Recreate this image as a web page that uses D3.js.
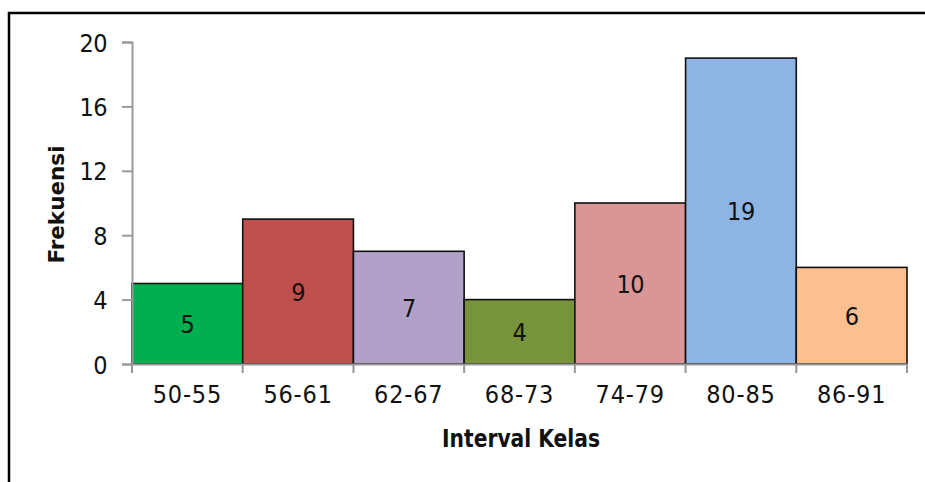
<!DOCTYPE html>
<html>
<head>
<meta charset="utf-8">
<script src="https://cdn.jsdelivr.net/npm/d3@7"></script>
<style>
  html, body { margin: 0; padding: 0; background: #fff; }
  svg { display: block; }
  text { font-family: "DejaVu Sans", sans-serif; font-stretch: condensed; fill: #111; }
</style>
</head>
<body>
<svg id="chart" width="925" height="482"></svg>
<script>
// Frequency distribution by class interval
const categories = ["50-55", "56-61", "62-67", "68-73", "74-79", "80-85", "86-91"];
const values = [5, 9, 7, 4, 10, 19, 6];
const colors = ["#00b050", "#c0504d", "#b1a0c7", "#77933c", "#da9694", "#8db4e2", "#fac090"];
const yTicks = [0, 4, 8, 12, 16, 20];

const svg = d3.select("#chart");

// outer frame
svg.append("rect")
  .attr("x", 9).attr("y", 13)
  .attr("width", 940).attr("height", 500)
  .attr("fill", "none").attr("stroke", "#000").attr("stroke-width", 2.5);

const plot = { left: 132, right: 907, top: 42, bottom: 364 };

const x = d3.scaleBand().domain(categories).range([plot.left, plot.right]).padding(0);
const y = d3.scaleLinear().domain([0, 20]).range([plot.bottom, plot.top]);

// bars
svg.append("g").selectAll("rect")
  .data(values)
  .join("rect")
  .attr("x", (d, i) => x(categories[i]))
  .attr("y", d => y(d))
  .attr("width", x.bandwidth())
  .attr("height", d => y(0) - y(d))
  .attr("fill", (d, i) => colors[i])
  .attr("stroke", "#111")
  .attr("stroke-width", 1.6);

// value labels centred in each bar
svg.append("g").selectAll("text")
  .data(values)
  .join("text")
  .attr("x", (d, i) => x(categories[i]) + x.bandwidth() / 2)
  .attr("y", d => (y(d) + y(0)) / 2)
  .attr("dy", "0.37em")
  .attr("text-anchor", "middle")
  .style("font-size", "25px")
  .style("letter-spacing", "-0.5px")
  .text(d => d);

// y axis
const yAxis = svg.append("g")
  .attr("transform", `translate(${plot.left},0)`)
  .call(d3.axisLeft(y).tickValues(yTicks).tickSize(10).tickPadding(15).tickSizeOuter(10));
yAxis.select(".domain").attr("stroke", "#999").attr("stroke-width", 2);
yAxis.selectAll(".tick line").attr("stroke", "#999").attr("stroke-width", 2);
yAxis.selectAll(".tick text")
  .attr("dy", "0.36em")
  .style("font-size", "25px").style("letter-spacing", "-0.5px").attr("fill", "#111");

// x axis: ticks at bar boundaries
const xAxis = svg.append("g")
  .attr("transform", `translate(0,${plot.bottom})`)
  .call(d3.axisBottom(x).tickSize(0).tickPadding(21));
xAxis.select(".domain").attr("stroke", "#999").attr("stroke-width", 2);
xAxis.selectAll(".tick text")
  .attr("dy", "0.72em")
  .style("font-size", "25px").style("letter-spacing", "0.8px").attr("fill", "#111");
xAxis.selectAll(".edge")
  .data(d3.range(categories.length + 1))
  .join("line")
  .attr("class", "edge")
  .attr("x1", i => plot.left + i * x.bandwidth())
  .attr("x2", i => plot.left + i * x.bandwidth())
  .attr("y1", 0).attr("y2", 9)
  .attr("stroke", "#999").attr("stroke-width", 2);

// axis titles
svg.append("text")
  .attr("x", 521).attr("y", 447)
  .attr("text-anchor", "middle")
  .attr("textLength", 158).attr("lengthAdjust", "spacingAndGlyphs")
  .style("font-size", "24px").style("font-weight", "bold")
  .text("Interval Kelas");

svg.append("text")
  .attr("transform", "translate(64,204.5) rotate(-90)")
  .attr("text-anchor", "middle")
  .attr("textLength", 118).attr("lengthAdjust", "spacingAndGlyphs")
  .style("font-size", "22px").style("font-weight", "bold")
  .text("Frekuensi");
</script>
</body>
</html>
